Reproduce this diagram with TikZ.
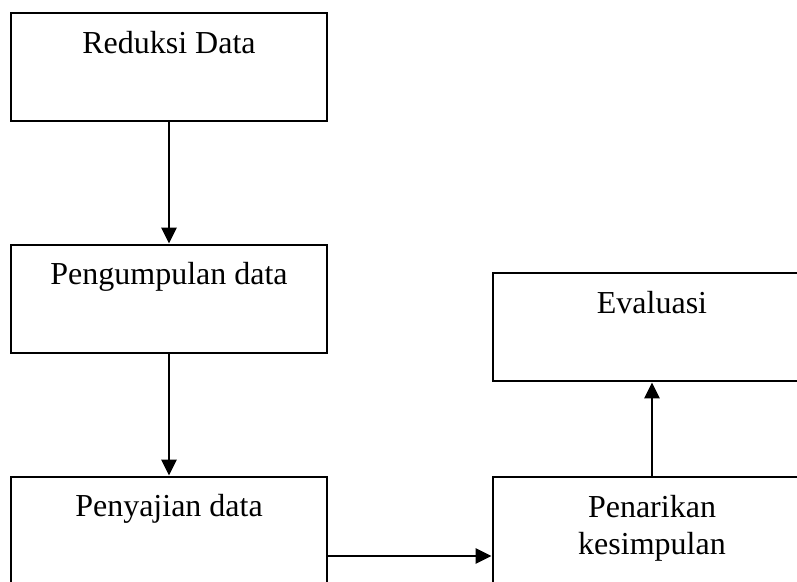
\documentclass[tikz,border=0pt]{standalone}
\usepackage{fontspec}
\setmainfont{Liberation Serif}
\usetikzlibrary{arrows.meta}
\begin{document}
\begin{tikzpicture}[x=1pt,y=-1pt,
  boxnode/.style={draw, line width=2.8pt, minimum width=316pt, minimum height=108pt, inner sep=0pt},
  txt/.style={anchor=base, inner sep=0pt, font=\fontsize{32}{37}\selectfont, align=center},
  conn/.style={line width=2.8pt, -{Triangle[length=16pt,width=15pt]}}]
\useasboundingbox (0,0) rectangle (797,581);
\node[boxnode] (red) at (169,67) {};
\node[boxnode] (peng) at (169,299) {};
\node[boxnode] (peny) at (169,531) {};
\node[boxnode, minimum width=318pt] (eval) at (652,327) {};
\node[boxnode, minimum width=318pt] (pen) at (652,531) {};
\node[txt] (tred) at (169,53) {Reduksi Data};
\node[txt] (tpeng) at (169,284) {Pengumpulan data};
\node[txt] (tpeny) at (169,516) {Penyajian data};
\node[txt] (teval) at (652,313) {Evaluasi};
\node[txt] (tpen) at (652,554) {Penarikan\\kesimpulan};
\coordinate (hy) at (400,556);
\draw[conn] (red.south) -- (peng.north);
\draw[conn] (peng.south) -- (peny.north);
\draw[conn] (peny.east |- hy) -- (pen.west |- hy);
\draw[conn] (pen.north) -- (eval.south);
\end{tikzpicture}
\end{document}
